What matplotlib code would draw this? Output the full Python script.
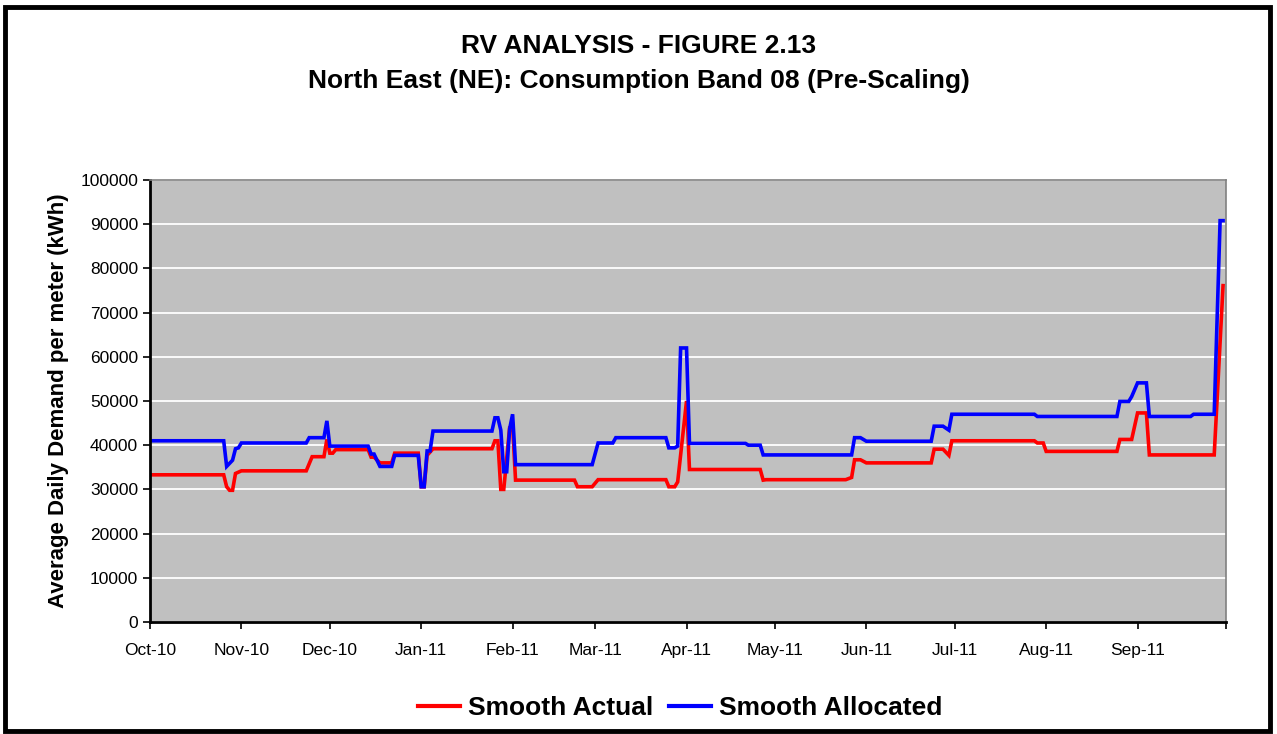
import numpy as np
import pandas as pd
import matplotlib
matplotlib.use('Agg')
import matplotlib.pyplot as plt
from matplotlib.patches import Rectangle

plt.rcParams['font.family'] = ['Liberation Sans', 'DejaVu Sans']

# breakpoints: days since 1 Oct 2010, average daily demand (kWh)
start = pd.Timestamp('2010-10-01')

actual_days = [0, 25, 26, 27, 28, 29, 31, 53, 55, 59, 60, 61, 62, 63, 74, 75, 76, 78, 82, 83,
               91, 92, 93, 94, 96, 116, 117, 118, 119, 120, 122, 123, 124, 144, 145, 150, 152,
               175, 176, 178, 179, 182, 183, 207, 208, 209, 236, 238, 239, 241, 243, 265, 266,
               269, 271, 272, 300, 301, 303, 304, 328, 329, 333, 335, 338, 339, 361, 364]
actual_kwh = [33300, 33300, 30600, 29800, 29800, 33600, 34200, 34200, 37400, 37400, 41300,
              38200, 38200, 39000, 39000, 37300, 37300, 36000, 36000, 38200, 38200, 30600,
              30600, 37700, 39200, 39200, 41000, 41000, 30000, 30000, 44000, 44500, 32100,
              32100, 30600, 30600, 32200, 32200, 30600, 30600, 31700, 50000, 34500, 34500,
              32100, 32200, 32200, 32700, 36700, 36700, 36000, 36000, 39100, 39100, 37700,
              41000, 41000, 40500, 40500, 38600, 38600, 41300, 41300, 47300, 47300, 37800,
              37800, 76100]

allocated_days = [0, 25, 26, 28, 29, 30, 31, 53, 54, 59, 60, 61, 74, 75, 76, 78, 82, 83, 91,
                  92, 93, 94, 95, 96, 116, 117, 118, 119, 120, 121, 122, 123, 124, 150, 152,
                  157, 158, 175, 176, 178, 179, 180, 182, 183, 202, 203, 207, 208, 238, 239,
                  241, 243, 265, 266, 269, 271, 272, 300, 301, 328, 329, 332, 333, 335, 338,
                  339, 353, 354, 361, 363, 364]
allocated_kwh = [41000, 41000, 35200, 36600, 39200, 39400, 40500, 40500, 41700, 41700, 45500,
                 39800, 39800, 38000, 38000, 35200, 35200, 37700, 37700, 30600, 30600, 38700,
                 38700, 43200, 43200, 46200, 46200, 43400, 34000, 34000, 43700, 47000, 35600,
                 35600, 40500, 40500, 41700, 41700, 39400, 39400, 39800, 62000, 62000, 40400,
                 40400, 40000, 40000, 37800, 37800, 41700, 41700, 40900, 40900, 44300, 44300,
                 43400, 47000, 47000, 46500, 46500, 49900, 49900, 51000, 54100, 54100, 46500,
                 46500, 47000, 47000, 90800, 90800]

month_ticks = pd.date_range('2010-10-01', '2011-10-01', freq='MS')

actual_dates = start + pd.to_timedelta(actual_days, unit='D')
allocated_dates = start + pd.to_timedelta(allocated_days, unit='D')

fig = plt.figure(figsize=(12.77, 7.34), dpi=100)
fig.patch.set_facecolor('white')
fig.patches.append(Rectangle((5 / 1277, 3 / 734), 1265 / 1277, 724 / 734, transform=fig.transFigure,
                             fill=False, edgecolor='black', linewidth=3.5, zorder=10))

ax = fig.add_axes([150 / 1277, 1 - 622 / 734, 1076 / 1277, 442 / 734])
ax.set_facecolor('#C0C0C0')

ax.plot(actual_dates, actual_kwh, color='#FF0000', lw=2.6, label='Smooth Actual', solid_joinstyle='miter')
ax.plot(allocated_dates, allocated_kwh, color='#0000FF', lw=2.6, label='Smooth Allocated', solid_joinstyle='miter')

ax.set_xlim(month_ticks[0], month_ticks[-1])
ax.set_ylim(0, 100000)
ax.set_yticks(np.arange(0, 100001, 10000))
ax.yaxis.grid(True, color='white', lw=1.3)
ax.set_axisbelow(True)

ax.set_xticks(month_ticks)
ax.set_xticklabels([d.strftime('%b-%y') for d in month_ticks[:-1]] + [''])
ax.tick_params(axis='both', direction='out', length=5, width=1.2, labelsize=12.5, colors='black')
ax.tick_params(axis='x', pad=10)

for side in ['left', 'bottom']:
    ax.spines[side].set_linewidth(2)
    ax.spines[side].set_color('black')
for side in ['top', 'right']:
    ax.spines[side].set_linewidth(1.2)
    ax.spines[side].set_color('#808080')

ax.set_ylabel('Average Daily Demand per meter (kWh)', fontsize=16, fontweight='bold', labelpad=8)

fig.text(0.5, 1 - 46 / 734, 'RV ANALYSIS - FIGURE 2.13', ha='center', va='center',
         fontsize=19, fontweight='bold')
fig.text(0.5, 1 - 81 / 734, 'North East (NE): Consumption Band 08 (Pre-Scaling)', ha='center',
         va='center', fontsize=19, fontweight='bold')

leg = fig.legend(loc='center', bbox_to_anchor=(680 / 1277, 1 - 708 / 734), ncol=2, frameon=False,
                 prop={'size': 19, 'weight': 'bold'}, handlelength=1.6, columnspacing=0.6,
                 handletextpad=0.3)
for line in leg.get_lines():
    line.set_linewidth(3)

fig.savefig('out.png', dpi=100)
